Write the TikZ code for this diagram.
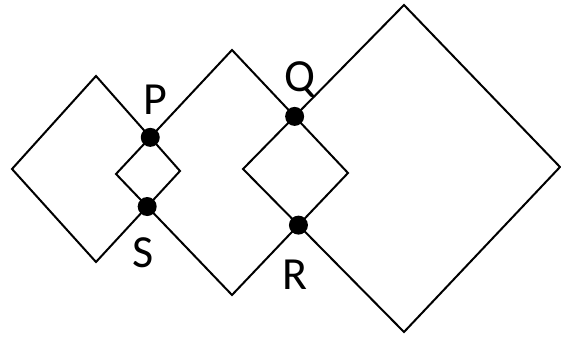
\documentclass[tikz,border=0pt]{standalone}
\usepackage{fontspec}
\setmainfont{Carlito}
\begin{document}
\begin{tikzpicture}[x=1pt,y=-1pt,
  edge/.style={line width=2pt, line join=miter},
  dot/.style={circle, fill=black, inner sep=0pt, minimum size=19pt},
  lbl/.style={font=\fontsize{46}{46}\selectfont, inner sep=0pt}]
\useasboundingbox (0,0) rectangle (561,339);
% left square
\coordinate (L1) at (12,169);
\coordinate (L2) at (96,76);
\coordinate (L3) at (180,171);
\coordinate (L4) at (96,262);
% middle square
\coordinate (M1) at (116,174);
\coordinate (M2) at (232,50);
\coordinate (M3) at (348,173);
\coordinate (M4) at (232,295);
% large square
\coordinate (G1) at (243,169);
\coordinate (G2) at (404,5);
\coordinate (G3) at (560,167);
\coordinate (G4) at (404,332);
\draw[edge] (L1) -- (L2) -- (L3) -- (L4) -- cycle;
\draw[edge] (M1) -- (M2) -- (M3) -- (M4) -- cycle;
\draw[edge] (G1) -- (G2) -- (G3) -- (G4) -- cycle;
\node[dot] (P) at (intersection of L2--L3 and M1--M2) {};
\node[dot] (S) at (intersection of L3--L4 and M1--M4) {};
\node[dot] (Q) at (intersection of M2--M3 and G1--G2) {};
\node[dot] (R) at (intersection of M3--M4 and G1--G4) {};
\node[lbl] (lP) at (155,100) {P};
\node[lbl] (lS) at (143,253) {S};
\node[lbl] (lQ) at (300,80) {Q};
\node[lbl] (lR) at (295,275) {R};
\end{tikzpicture}
\end{document}
